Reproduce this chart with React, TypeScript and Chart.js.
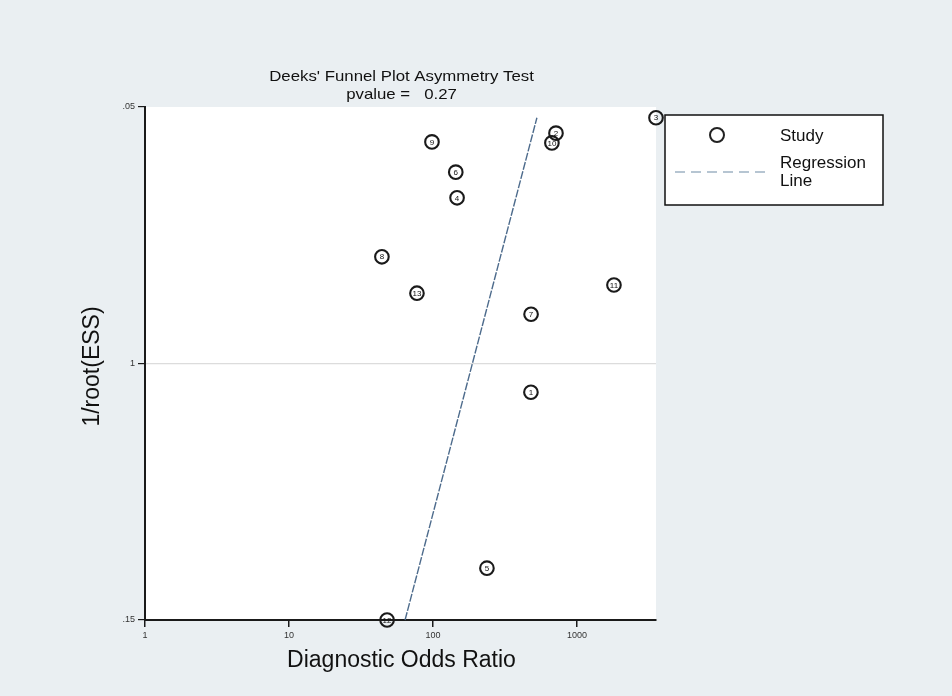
import React, { useEffect, useRef } from "react";
import { Chart, registerables } from "chart.js";

Chart.register(...registerables);

// Study results: diagnostic odds ratio vs 1/root(effective sample size)
const studyIds = ["1", "2", "3", "4", "5", "6", "7", "8", "9", "10", "11", "12", "13"];
const studyDOR = [479, 715, 3540, 147, 237, 144, 480, 44.2, 98.4, 670, 1807, 48, 77.4];
const studyInvRootESS = [0.1056, 0.0551, 0.0521, 0.0677, 0.1399, 0.0627, 0.0904, 0.0792, 0.0568, 0.057, 0.0847, 0.15, 0.0863];

// Fitted regression line end points
const regressionDOR = [64, 527];
const regressionInvRootESS = [0.15, 0.0521];

// Axis ticks
const xTickValues = [1, 10, 100, 1000];
const yTickValues = [0.05, 0.1, 0.15];
const yTickLabels = [".05", "1", ".15"];

const chartTitle = "Deeks' Funnel Plot Asymmetry Test";
const chartSubtitle = "pvalue =   0.27";
const xTitle = "Diagnostic Odds Ratio";
const yTitle = "1/root(ESS)";

const FONT = "Arial, 'Liberation Sans', Helvetica, sans-serif";

const decorPlugin = {
  id: "decor",
  afterDatasetsDraw(chart: any) {
    const { ctx, chartArea } = chart;
    const cx = (chartArea.left + chartArea.right) / 2;
    ctx.save();
    ctx.fillStyle = "#111";
    ctx.textAlign = "center";
    ctx.textBaseline = "middle";

    // study numbers inside markers
    ctx.font = `8px ${FONT}`;
    const meta = chart.getDatasetMeta(0);
    meta.data.forEach((pt: any, i: number) => {
      ctx.fillText(studyIds[i], pt.x, pt.y + 0.5);
    });

    // titles, slightly widened
    ctx.font = `15px ${FONT}`;
    ctx.save();
    ctx.translate(cx + 1, 0);
    ctx.scale(1.12, 1);
    ctx.fillText(chartTitle, 0, 77);
    ctx.fillText(chartSubtitle, 0, 95);
    ctx.restore();

    ctx.font = `23px ${FONT}`;
    ctx.fillText(xTitle, cx + 1, 661);

    ctx.save();
    ctx.translate(93, (chartArea.top + chartArea.bottom) / 2 + 3);
    ctx.rotate(-Math.PI / 2);
    ctx.fillText(yTitle, 0, 0);
    ctx.restore();

    // legend box
    const lx = 665, ly = 115, lw = 218, lh = 90;
    ctx.fillStyle = "#ffffff";
    ctx.fillRect(lx, ly, lw, lh);
    ctx.strokeStyle = "#111";
    ctx.lineWidth = 1.5;
    ctx.strokeRect(lx, ly, lw, lh);

    ctx.beginPath();
    ctx.arc(717, 135, 7, 0, Math.PI * 2);
    ctx.lineWidth = 2;
    ctx.strokeStyle = "#222";
    ctx.stroke();

    ctx.beginPath();
    ctx.setLineDash([10, 6]);
    ctx.moveTo(675, 172);
    ctx.lineTo(768, 172);
    ctx.strokeStyle = "#9fb2c4";
    ctx.lineWidth = 1.3;
    ctx.stroke();
    ctx.setLineDash([]);

    ctx.fillStyle = "#111";
    ctx.textAlign = "left";
    ctx.font = `17px ${FONT}`;
    ctx.fillText("Study", 780, 136);
    ctx.fillText("Regression", 780, 163);
    ctx.fillText("Line", 780, 181);

    ctx.restore();
  },
  beforeDraw(chart: any) {
    const { ctx, chartArea } = chart;
    ctx.save();
    ctx.fillStyle = "#eaeff2";
    ctx.fillRect(0, 0, chart.width, chart.height);
    ctx.fillStyle = "#ffffff";
    ctx.fillRect(chartArea.left, chartArea.top, chartArea.right - chartArea.left, chartArea.bottom - chartArea.top);
    ctx.restore();
  },
};

export default function App() {
  const ref = useRef<HTMLCanvasElement | null>(null);

  useEffect(() => {
    if (!ref.current) return;
    const chart = new Chart(ref.current, {
      type: "scatter",
      data: {
        datasets: [
          {
            label: "Study",
            data: studyDOR.map((x, i) => ({ x, y: studyInvRootESS[i] })),
            pointRadius: 6.8,
            pointBorderWidth: 2.1,
            borderColor: "#1a1a1a",
            backgroundColor: "rgba(255,255,255,0)",
            showLine: false,
            clip: false,
          } as any,
          {
            label: "Regression Line",
            data: regressionDOR.map((x, i) => ({ x, y: regressionInvRootESS[i] })),
            showLine: true,
            borderColor: "#4d6b8c",
            borderWidth: 1.4,
            borderDash: [8, 1.5],
            pointRadius: 0,
            clip: false,
          } as any,
        ],
      },
      options: {
        animation: false,
        responsive: false,
        maintainAspectRatio: false,
        layout: { padding: { left: 0, right: 296, top: 107, bottom: 0 } },
        plugins: {
          legend: { display: false },
          title: { display: false },
          tooltip: { enabled: false },
        },
        scales: {
          x: {
            type: "logarithmic",
            min: 1,
            max: 3540,
            afterBuildTicks: (scale: any) => {
              scale.ticks = xTickValues.map((v) => ({ value: v }));
            },
            afterFit: (scale: any) => {
              scale.height = 76;
            },
            ticks: {
              autoSkip: false,
              maxRotation: 0,
              color: "#333",
              font: { size: 9, family: FONT },
              padding: 3,
              callback: (v: any) => String(v),
            },
            grid: {
              drawOnChartArea: false,
              tickLength: 7,
              tickColor: "#1a1a1a",
              lineWidth: 1.5,
            },
            border: { color: "#1a1a1a", width: 2 },
          },
          y: {
            type: "linear",
            min: 0.05,
            max: 0.15,
            reverse: true,
            afterBuildTicks: (scale: any) => {
              scale.ticks = yTickValues.map((v) => ({ value: v }));
            },
            afterFit: (scale: any) => {
              scale.width = 145;
            },
            ticks: {
              autoSkip: false,
              color: "#333",
              font: { size: 9, family: FONT },
              padding: 3,
              callback: (_v: any, i: number) => yTickLabels[i],
            },
            grid: {
              color: (c: any) => (c.tick && Math.abs(c.tick.value - 0.1) < 1e-9 ? "#dcdcdc" : "rgba(0,0,0,0)"),
              tickColor: "#1a1a1a",
              tickLength: 7,
              lineWidth: 1.2,
            },
            border: { color: "#1a1a1a", width: 2 },
          },
        },
      },
      plugins: [decorPlugin],
    });
    return () => chart.destroy();
  }, []);

  return (
    <div style={{ position: "absolute", left: 0, top: 0, width: 952, height: 696, background: "#eaeff2" }}>
      <canvas ref={ref} width={952} height={696} style={{ display: "block", width: 952, height: 696 }} />
    </div>
  );
}
